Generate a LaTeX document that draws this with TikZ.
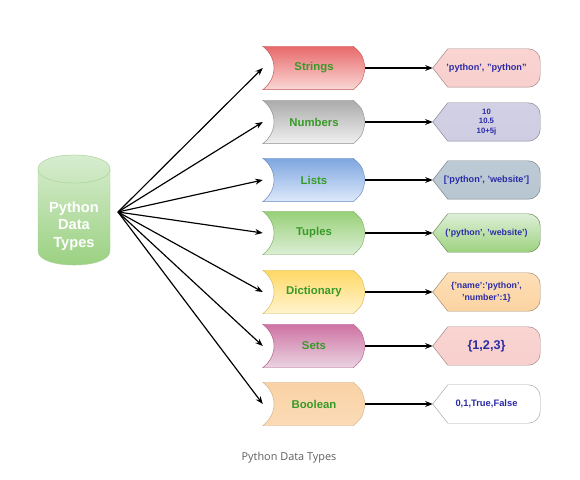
\documentclass[tikz,border=0pt]{standalone}
\usepackage{fontspec}
\setmainfont{Liberation Sans}
\newfontfamily\capfont{Open Sans}
\usetikzlibrary{arrows.meta,calc,backgrounds}
\definecolor{typegreen}{HTML}{389A28}
\definecolor{valblue}{HTML}{2B2BA6}
\definecolor{capgray}{HTML}{606060}
\definecolor{cylA}{HTML}{DAEED3}
\definecolor{cylB}{HTML}{98D07E}
\definecolor{cylE}{HTML}{A9D398}
\definecolor{ta1}{HTML}{E8696A}\definecolor{tb1}{HTML}{FAD8D6}
\definecolor{ta2}{HTML}{ABABAB}\definecolor{tb2}{HTML}{F0F0F0}
\definecolor{ta3}{HTML}{7EA6E0}\definecolor{tb3}{HTML}{DDE9FA}
\definecolor{ta4}{HTML}{97D077}\definecolor{tb4}{HTML}{DDEFD6}
\definecolor{ta5}{HTML}{FFD966}\definecolor{tb5}{HTML}{FFF4CF}
\definecolor{ta6}{HTML}{CF72A3}\definecolor{tb6}{HTML}{EAD4E2}
\definecolor{ta7}{HTML}{F9D2A5}\definecolor{tb7}{HTML}{FBDBB6}
\definecolor{va1}{HTML}{F9D4D1}\definecolor{vb1}{HTML}{F8D0CD}
\definecolor{va2}{HTML}{D2D0E4}\definecolor{vb2}{HTML}{CFCDE1}
\definecolor{va3}{HTML}{BCCAD5}\definecolor{vb3}{HTML}{B8C6D1}
\definecolor{va4}{HTML}{DDEFD7}\definecolor{vb4}{HTML}{9DD27F}
\definecolor{va5}{HTML}{FDDFB8}\definecolor{vb5}{HTML}{FBD3A1}
\definecolor{va6}{HTML}{F9D4D1}\definecolor{vb6}{HTML}{F8D0CD}
\definecolor{va7}{HTML}{FFFFFF}\definecolor{vb7}{HTML}{FFFFFF}
\newcommand\squo{\symbol{39}}
\newcommand\dquo{\symbol{34}}
\tikzset{>={Stealth[length=6.5pt,width=5pt]},
  every node/.style={font=\bfseries},
  link/.style={->,draw=black,line width=1pt},
  typebox/.style={minimum width=3.06cm,minimum height=1.29cm,inner sep=0pt,
    text=typegreen,font=\bfseries\fontsize{9.7}{11}\selectfont},
  valbox/.style={minimum width=3.21cm,minimum height=1.14cm,inner sep=0pt,
    align=center,text=valblue},
  dbtext/.style={align=center,text=white,font=\bfseries\fontsize{12.5}{15}\selectfont},
  caption/.style={text=capgray,font=\capfont\fontsize{9.3}{11}\selectfont}}

\begin{document}
\begin{tikzpicture}[x=0.03cm,y=-0.03cm]
\useasboundingbox (0,0) rectangle (580,480);
\begin{scope}[on background layer]
\fill[white] (0,0) rectangle (580,480);
\end{scope}
% cylinder
\shade[top color=cylA,bottom color=cylB,draw=cylE,line width=.4pt] (38,169) -- (38,251)
  .. controls (38,269.7) and (110,269.7) .. (110,251) -- (110,169)
  .. controls (110,150.3) and (38,150.3) .. (38,169) -- cycle;
\draw[cylE,line width=.4pt] (38,169) .. controls (38,187.7) and (110,187.7) .. (110,169);
\node[dbtext] (db) at (74,226) {Python\\Data\\Types};
\coordinate (hub) at (118,212);
\foreach \i/\y/\lbl/\vs/\vb/\val in {1/68/Strings/7.8/9.8/{\squo python\squo, \dquo python\dquo},
  2/122/Numbers/6.6/8.2/{10\\10.5\\10+5j},
  3/180/Lists/7.8/9.8/{[\squo python\squo, \squo website\squo]},
  4/233/Tuples/7.5/9.8/{(\squo python\squo, \squo website\squo)},
  5/292/Dictionary/7.5/10/{\{\squo name\squo:\squo python\squo,\\\squo number\squo:1\}},
  6/346/Sets/10.8/12/{\{1,2,3\}},
  7/404/Boolean/8/9.8/{0,1,True,False}}{
\node[typebox] (t\i) at (314,\y) {\lbl};
\node[valbox,font=\bfseries\fontsize{\vs}{\vb}\selectfont] (v\i) at (486.5,\y) {\val};
\begin{scope}[on background layer]
\shade[top color=ta\i,bottom color=tb\i,draw=ta\i!85!black,line width=.4pt]
  (t\i.north west) -- ($(t\i.north east)+(-12,0)$)
  .. controls ($(t\i.north east)+(-3,8)$) .. (t\i.east)
  .. controls ($(t\i.south east)+(-3,-8)$) .. ($(t\i.south east)+(-12,0)$) -- (t\i.south west)
  .. controls ($(t\i.west)+(15,10)$) and ($(t\i.west)+(15,-10)$) .. (t\i.north west) -- cycle;
\shade[top color=va\i,bottom color=vb\i,draw=vb\i!65!black,line width=.4pt]
  (v\i.west) -- ($(v\i.north west)+(15,0)$) -- ($(v\i.north east)+(-12,0)$)
  .. controls +(6.6,0) and +(0,-6.6) .. ($(v\i.north east)+(0,12)$) -- ($(v\i.south east)+(0,-12)$)
  .. controls +(0,6.6) and +(6.6,0) .. ($(v\i.south east)+(-12,0)$) -- ($(v\i.south west)+(15,0)$) -- cycle;
\end{scope}
\draw[link] (hub) -- (t\i.west);
\draw[link] (t\i.east) -- (v\i.west);}
\node[caption] (cap) at (289,458) {Python Data Types};
\end{tikzpicture}
\end{document}
